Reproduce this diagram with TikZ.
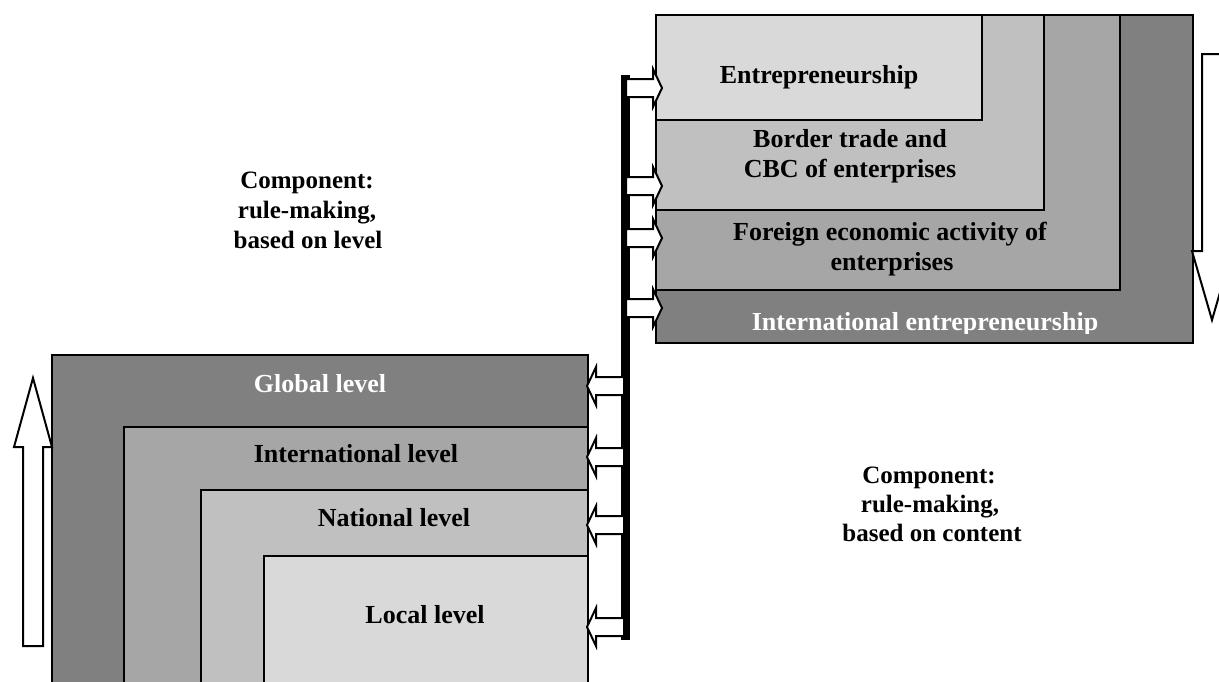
\documentclass[tikz,border=0pt]{standalone}
\usepackage{fontspec}
\setmainfont{Liberation Serif}
\definecolor{gA}{HTML}{808080}
\definecolor{gB}{HTML}{A6A6A6}
\definecolor{gC}{HTML}{C0C0C0}
\definecolor{gD}{HTML}{D9D9D9}
\begin{document}
\begin{tikzpicture}[x=1pt,y=-1pt,
  box/.style={draw=black,line width=2.5pt},
  txt/.style={font=\fontsize{26}{30}\selectfont\bfseries,anchor=base,inner sep=0pt},
  lbl/.style={font=\fontsize{25}{30}\selectfont\bfseries,anchor=base,inner sep=0pt},
  blockarrow/.style={draw=black,fill=white,line width=2pt,line join=miter}]
\useasboundingbox (0,0) rectangle (1219,681);
\clip (0,0) rectangle (1219,681);

% right nested boxes (content)
\draw[box,fill=gA] (656,15) rectangle (1193,343);
\draw[box,fill=gB] (656,15) rectangle (1120,290);
\draw[box,fill=gC] (656,15) rectangle (1044,210);
\draw[box,fill=gD] (656,15) rectangle (982,120);

% left nested boxes (levels)
\draw[box,fill=gA] (52,355) rectangle (588,700);
\draw[box,fill=gB] (124,427) rectangle (588,700);
\draw[box,fill=gC] (201,490) rectangle (588,700);
\draw[box,fill=gD] (264,556) rectangle (588,700);

% vertical bar
\fill[black] (621,75) rectangle (630,640);

% right-pointing block arrows
\foreach \y in {88,186,238,308}{
  \draw[blockarrow] (626,\y-9) -- (653,\y-9) -- (653,\y-19) -- (662,\y)
    -- (653,\y+19) -- (653,\y+9) -- (626,\y+9) -- cycle;
}
% left-pointing block arrows
\foreach \y in {386,457,525,627}{
  \draw[blockarrow] (624,\y-9) -- (596,\y-9) -- (596,\y-19) -- (587,\y)
    -- (596,\y+19) -- (596,\y+9) -- (624,\y+9) -- cycle;
}

% big up arrow
\draw[blockarrow] (23,646) -- (23,447) -- (14,447) -- (33,378) -- (52,447)
  -- (43,447) -- (43,646) -- cycle;
% big down arrow
\draw[blockarrow] (1202,54) -- (1202,251) -- (1192,251) -- (1212,320)
  -- (1232,251) -- (1222,251) -- (1222,54) -- cycle;

% texts right
\node[txt] (e1) at (819,83) {Entrepreneurship};
\node[txt] (e2a) at (850,147) {Border trade and};
\node[txt] (e2b) at (850,177) {CBC of enterprises};
\node[txt] (e3a) at (890,240) {Foreign economic activity of};
\node[txt] (e3b) at (892,270) {enterprises};
\begin{scope}
  \clip (656,290) rectangle (1193,333);
  \node[txt,text=white] (e4) at (925,330) {International entrepreneurship};
\end{scope}

% texts left
\node[txt,text=white] (l1) at (320,392) {Global level};
\node[txt] (l2) at (356,462) {International level};
\node[txt] (l3) at (394,526) {National level};
\node[txt] (l4) at (425,623) {Local level};

% component labels
\node[lbl] (c1a) at (307,188) {Component:};
\node[lbl] (c1b) at (307,218) {rule-making,};
\node[lbl] (c1c) at (308,248) {based on level};
\node[lbl] (c2a) at (929,483) {Component:};
\node[lbl] (c2b) at (930,512) {rule-making,};
\node[lbl] (c2c) at (932,541) {based on content};
\end{tikzpicture}
\end{document}
